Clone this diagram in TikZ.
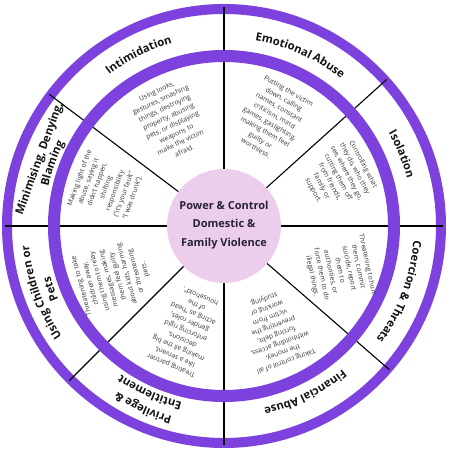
\documentclass[tikz,border=0pt]{standalone}
\usepackage{fontspec}
\setmainfont{Open Sans}
\usetikzlibrary{decorations.text}
\definecolor{ringcol}{RGB}{125,65,222}
\definecolor{hubcol}{RGB}{236,206,236}
\definecolor{hubtext}{RGB}{38,34,58}
\definecolor{bodytext}{RGB}{55,55,55}
\definecolor{labeltext}{RGB}{20,20,20}
\newcommand\lbfont{\fontsize{11.3}{13}\selectfont\bfseries}
\newcommand\arclabel[4]{%
  \path[decorate, decoration={text along path, text align=center, text color=labeltext, text={|\lbfont|#4}}]
    ({#1+#3}:#2pt) arc[start angle={#1+#3}, end angle={#1-#3}, radius=#2pt];}
\tikzset{
  ring/.style={draw=ringcol},
  spoke/.style={draw=black, line width=1.1pt},
  body/.style={align=center, font=\fontsize{6.8}{9.4}\selectfont, text=bodytext, inner sep=0pt},
}
\begin{document}
\begin{tikzpicture}
\useasboundingbox[fill=white] (-224pt,-224pt) rectangle (226pt,226pt);
% outer ring
\draw[ring, line width=10pt] (0,0) circle[radius=217pt];
% spokes
\foreach \a/\n in {90/s1,42/s2,0/s3,-41/s4,-90/s5,-135/s6,180/s7,143/s8}{
  \coordinate (\n i) at (\a:57pt);
  \coordinate (\n o) at (\a:219pt);
  \draw[spoke] (\n i) -- (\n o);
}
% inner ring
\draw[ring, line width=12pt] (0,0) circle[radius=170pt];
% hub
\node[circle, fill=hubcol, minimum size=114pt, inner sep=0pt] (hub) at (0,0) {};
\node[align=center, font=\fontsize{11}{18.5}\selectfont\bfseries, text=hubtext] (hubtext) at (0,1pt) {Power \& Control\\Domestic \&\\Family Violence};
% inner texts
\node[body, rotate=25] (t1) at (117:118pt) {Using looks,\\gestures, smashing\\things, destroying\\property, abusing\\pets, or displaying\\weapons to\\make the victim\\afraid.};
\node[body, rotate=-30] (t2) at (65.6:117pt) {Putting the victim\\down, calling\\names, constant\\criticism, mind\\games, gaslighting,\\making them feel\\guilty or\\worthless.};
\node[body, rotate=-62] (t3) at (23:124pt) {Controlling what\\they do, who they\\see, where they go,\\cutting them off\\from friends,\\family or\\support.};
\node[body, rotate=-78] (t4) at (-21:124pt) {Threatening to hurt\\them, commit\\suicide, report\\them to\\authorities, or\\force them to do\\illegal things.};
\node[body, rotate=-160] (t5) at (-64:116pt) {Taking control of all\\the money,\\withholding access,\\forcing debt,\\preventing the\\victim from\\working or\\studying.};
\node[body, rotate=157] (t6) at (250:112pt) {Treating partner\\like a servant,\\making all the big\\decisions,\\enforcing rigid\\gender roles,\\acting as “head\\of the\\household”.};
\node[body, rotate=105] (t7) at (205:122pt) {Threatening to take\\children away,\\using them to relay\\messages, making\\them feel guilty\\about kids, harming\\or threatening\\pets.};
\node[body, rotate=70] (t8) at (162:124pt) {Making light of the\\abuse, saying it\\didn’t happen,\\shifting\\responsibility\\(“it’s your fault”\\“I was drunk”).};
% outer labels
\arclabel{116.5}{190}{30}{Intimidation}
\arclabel{66}{188}{30}{Emotional Abuse}
\arclabel{22}{189}{30}{Isolation}
\arclabel{-20.5}{190}{30}{Coercion {\&} Threats}
\arclabel{-64}{186}{30}{Financial Abuse}
\arclabel{246}{197}{30}{Privilege {\&}}
\arclabel{246}{181}{30}{Entitlement}
\arclabel{200}{196}{30}{Using Children or}
\arclabel{200}{181}{30}{Pets}
\arclabel{160}{193}{30}{{Minimising, Denying,}}
\arclabel{160}{180}{30}{Blaming}
\end{tikzpicture}
\end{document}
